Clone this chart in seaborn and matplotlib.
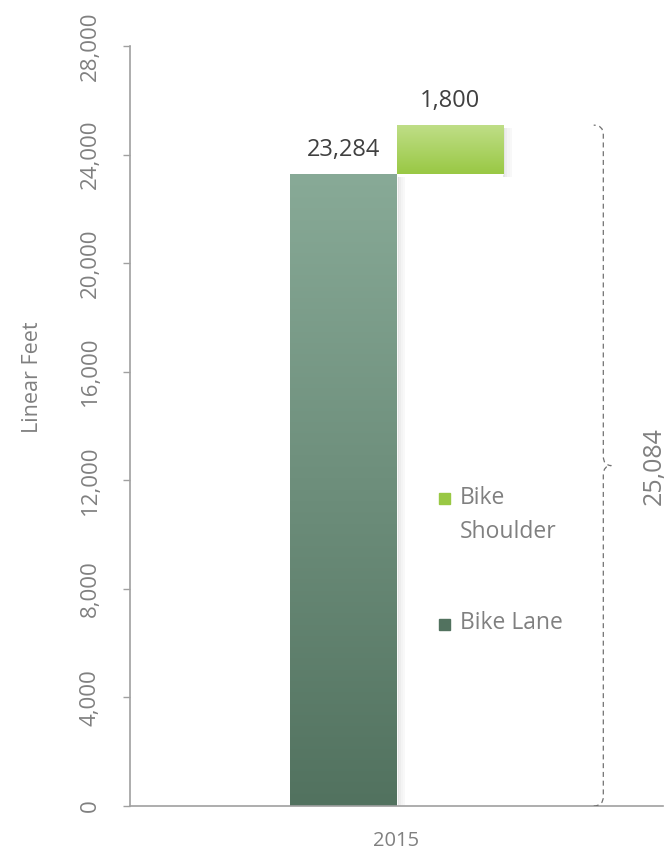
import seaborn as sns
import pandas as pd
import matplotlib.pyplot as plt
import numpy as np
from matplotlib.colors import LinearSegmentedColormap
from matplotlib.patches import Rectangle
from matplotlib.path import Path
from matplotlib.patches import PathPatch

# data
years = ["2015"]
series = ["Bike Lane", "Bike Shoulder"]
lane = [23284]
shoulder = [1800]
yticks = [0, 4000, 8000, 12000, 16000, 20000, 24000, 28000]

grey = "#808080"
dark = "#404040"
lane_top, lane_bot = "#88AA97", "#52725F"
sh_top, sh_bot = "#BFDE87", "#99C844"

df = pd.DataFrame({
    "year": years * 2,
    "type": [series[0]] * len(years) + [series[1]] * len(years),
    "feet": lane + shoulder,
})

sns.set_style("white")
plt.rcParams['font.family'] = ['Open Sans', 'DejaVu Sans']

fig = plt.figure(figsize=(6.72, 8.55), dpi=100)
ax = fig.add_axes([0.1935, 0.0573, 0.7931, 0.8889])

sns.barplot(data=df, x="year", y="feet", hue="type", hue_order=series,
            palette=[lane_bot, sh_bot], width=0.4, dodge=True,
            edgecolor="white", linewidth=1.2, legend=False, ax=ax)

bars = list(ax.patches)
lane_bar, sh_bar = bars[0], bars[1]
# shoulder sits on top of the lane bar
sh_bar.set_y(lane[0])

def fill_gradient(p, top, bot):
    x, y = p.get_x(), p.get_y()
    w, h = p.get_width(), p.get_height()
    cmap = LinearSegmentedColormap.from_list("g", [bot, top])
    grad = np.linspace(0, 1, 256).reshape(-1, 1)
    im = ax.imshow(grad, extent=[x, x + w, y, y + h], origin="lower",
                   aspect="auto", cmap=cmap, zorder=p.get_zorder() + 0.1)
    im.set_clip_path(p)
    # soft shadow on the right
    for i, a in enumerate([0.22, 0.15, 0.09, 0.05]):
        ax.add_patch(Rectangle((x + w + i * 0.004, y - 100), 0.004, h,
                               color="#888888", alpha=a, lw=0,
                               zorder=p.get_zorder() - 0.1))

fill_gradient(lane_bar, lane_top, lane_bot)
fill_gradient(sh_bar, sh_top, sh_bot)

# value labels
for p, v in [(lane_bar, lane[0]), (sh_bar, shoulder[0])]:
    ax.text(p.get_x() + p.get_width() / 2, p.get_y() + p.get_height() + 450,
            f"{v:,}", ha="center", va="bottom", fontsize=17, color=dark)

# brace showing the total
total = lane[0] + shoulder[0]
bx, c, t = 0.388, 0.018, 0.015
mid = total / 2
verts = [(bx - c, 0), (bx, 0), (bx, 350),
         (bx, mid - 350), (bx, mid), (bx + t, mid),
         (bx, mid), (bx, mid + 350),
         (bx, total - 350), (bx, total), (bx - c, total)]
codes = [Path.MOVETO, Path.CURVE3, Path.CURVE3,
         Path.LINETO, Path.CURVE3, Path.CURVE3,
         Path.CURVE3, Path.CURVE3,
         Path.LINETO, Path.CURVE3, Path.CURVE3]
ax.add_patch(PathPatch(Path(verts, codes), fill=False, ec="#707070",
                       lw=0.9, ls=(0, (4, 3)), zorder=3))
ax.text(bx + 0.095, mid, f"{total:,}", rotation=90, ha="center", va="center",
        fontsize=18, color=grey)

ax.set_xlim(-0.5, 0.5)
ax.set_ylim(0, 28000)
ax.set_yticks(yticks)
ax.set_yticklabels([f"{v:,}" for v in yticks], rotation=90, va="center")
ax.tick_params(axis="y", direction="out", length=5, width=1, color="#a0a0a0",
               labelsize=16, labelcolor=grey, pad=16, left=True)
ax.tick_params(axis="x", length=0, labelsize=14.5, labelcolor=grey, pad=18)
ax.set_xlabel("")
ax.set_ylabel("Linear Feet", fontsize=15.5, color=grey)
ax.yaxis.set_label_coords(-0.164, 0.564)
for s in ["top", "right"]:
    ax.spines[s].set_visible(False)
for s in ["left", "bottom"]:
    ax.spines[s].set_color("#a0a0a0")
    ax.spines[s].set_linewidth(1.2)

# legend (marker aligned with first line of each label)
legend_items = [("Bike\nShoulder", sh_bot, 0.419), ("Bike Lane", lane_bot, 0.272)]
for label, col, fy in legend_items:
    fig.patches.append(Rectangle((0.653, fy - 0.0085), 0.016, 0.0125,
                                 transform=fig.transFigure, color=col,
                                 figure=fig))
    fig.text(0.684, fy + 0.013, label, ha="left", va="top", fontsize=16.5,
             color=grey, linespacing=1.55, transform=fig.transFigure)

fig.savefig("out.png", dpi=100)
